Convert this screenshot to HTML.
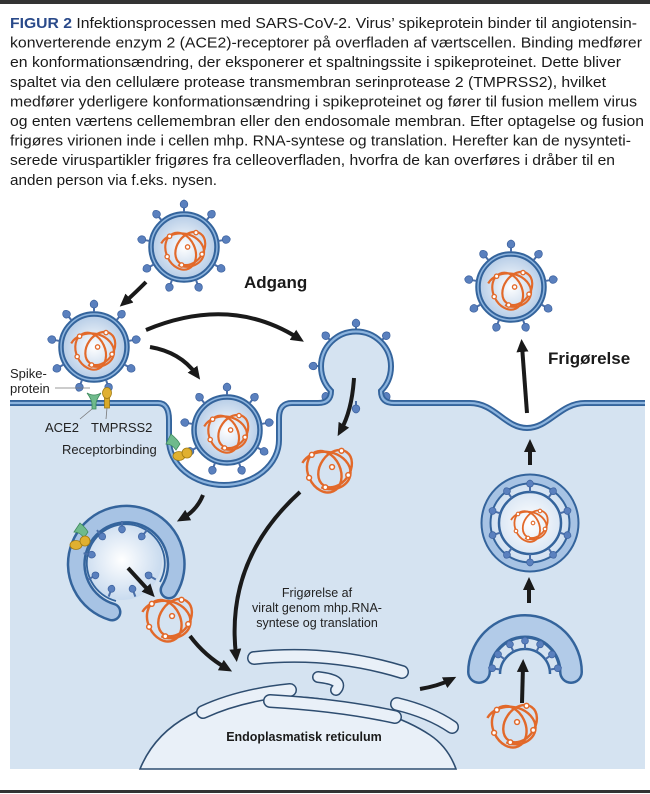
<!DOCTYPE html>
<html><head><meta charset="utf-8"><style>
html,body{margin:0;padding:0;background:#fff;}
svg{display:block;}
</style></head><body>
<svg width="650" height="794" viewBox="0 0 650 794" xmlns="http://www.w3.org/2000/svg" font-family="'Liberation Sans', Arial, sans-serif">
<defs>
<radialGradient id="vg" cx="0.5" cy="0.5" r="0.5">
<stop offset="0" stop-color="#ffffff"/><stop offset="1" stop-color="#b4cbe6"/>
</radialGradient>
<radialGradient id="eg" cx="0.5" cy="0.5" r="0.5">
<stop offset="0" stop-color="#ffffff"/><stop offset="1" stop-color="#c9dbef"/>
</radialGradient>
<marker id="ah" markerWidth="14" markerHeight="14" refX="6" refY="7" orient="auto" markerUnits="userSpaceOnUse">
<path d="M0,1 L13,7 L0,13 Z" fill="#1a1a1a"/>
</marker>
<g id="sp">
<line x1="0" y1="-35" x2="0" y2="-40" stroke="#4a6fa8" stroke-width="2"/>
<path d="M0,-39 C-5,-39 -5,-46 0,-47 C5,-46 5,-39 0,-39Z" fill="#5a80be" stroke="#3f64a0" stroke-width="0.8"/>
</g>
<g id="spi">
<line x1="0" y1="0" x2="0" y2="-6" stroke="#4a6fa8" stroke-width="2"/>
<path d="M0,-5 C-4.5,-5 -4.5,-11 0,-12 C4.5,-11 4.5,-5 0,-5Z" fill="#5a80be" stroke="#3f64a0" stroke-width="0.8"/>
</g>
<g id="r0" fill="none" stroke="#e2692a" stroke-width="1.8">
<ellipse cx="-4" cy="2" rx="12" ry="16" transform="rotate(-25)"/>
<ellipse cx="5" cy="-2" rx="11" ry="15" transform="rotate(35)"/>
<path d="M-19,-3 C-12,-15 10,-14 16,0 C20,12 6,20 -5,15"/>
<g fill="#fff" stroke-width="1.1">
<circle cx="-12" cy="-9" r="1.8"/><circle cx="10" cy="-12" r="1.8"/><circle cx="15" cy="6" r="1.8"/>
<circle cx="-2" cy="15" r="1.8"/><circle cx="-14" cy="8" r="1.8"/><circle cx="3" cy="0" r="1.8"/>
</g>
</g>
<g id="r"><use href="#r0" transform="scale(1.2)"/></g>
<g id="v">
<circle r="33" fill="url(#vg)" stroke="#34649c" stroke-width="5.5"/>
<circle r="33" fill="none" stroke="#8db4de" stroke-width="1.5"/>
<use href="#sp" transform="rotate(0)"/><use href="#sp" transform="rotate(40)"/>
<use href="#sp" transform="rotate(80)"/><use href="#sp" transform="rotate(120)"/>
<use href="#sp" transform="rotate(160)"/><use href="#sp" transform="rotate(200)"/>
<use href="#sp" transform="rotate(240)"/><use href="#sp" transform="rotate(280)"/>
<use href="#sp" transform="rotate(320)"/>
<use href="#r"/>
</g>
</defs>

<rect x="0" y="0" width="650" height="4" fill="#333"/>
<rect x="0" y="790" width="650" height="3" fill="#333"/>

<g font-size="15" fill="#1a1a1a">
<text x="10" y="28" textLength="627" lengthAdjust="spacingAndGlyphs"><tspan font-weight="bold" fill="#2a4a8a">FIGUR 2</tspan> Infektionsprocessen med SARS-CoV-2. Virus’ spikeprotein binder til angiotensin-</text>
<text x="10" y="47.6" textLength="632" lengthAdjust="spacingAndGlyphs">konverterende enzym 2 (ACE2)-receptorer på overfladen af værtscellen. Binding medfører</text>
<text x="10" y="67.2" textLength="611" lengthAdjust="spacingAndGlyphs">en konformationsændring, der eksponerer et spaltningssite i spikeproteinet. Dette bliver</text>
<text x="10" y="86.8" textLength="596" lengthAdjust="spacingAndGlyphs">spaltet via den cellulære protease transmembran serinprotease 2 (TMPRSS2), hvilket</text>
<text x="10" y="106.4" textLength="627" lengthAdjust="spacingAndGlyphs">medfører yderligere konformationsændring i spikeproteinet og fører til fusion mellem virus</text>
<text x="10" y="126" textLength="634" lengthAdjust="spacingAndGlyphs">og enten værtens cellemembran eller den endosomale membran. Efter optagelse og fusion</text>
<text x="10" y="145.6" textLength="621" lengthAdjust="spacingAndGlyphs">frigøres virionen inde i cellen mhp. RNA-syntese og translation. Herefter kan de nysynteti-</text>
<text x="10" y="165.2" textLength="605" lengthAdjust="spacingAndGlyphs">serede viruspartikler frigøres fra celleoverfladen, hvorfra de kan overføres i dråber til en</text>
<text x="10" y="184.8" textLength="207" lengthAdjust="spacingAndGlyphs">anden person via f.eks. nysen.</text>
</g>

<path d="M10,403 H158 Q169,403 169,420 L169,440 A55,45 0 0 0 279,440 L279,418 Q279,403 292,403 H318 Q331,403 331,391 A35,35 0 1 1 381,391 Q381,403 394,403 H470 C495,403 505,428 527,428 C549,428 560,403 585,403 H645 V769 H10 Z" fill="#d5e3f1"/>
<g transform="translate(356,366)">
<use href="#sp" transform="rotate(-90)"/>
<use href="#sp" transform="rotate(-45)"/><use href="#sp" transform="rotate(45)"/>
<use href="#sp" transform="rotate(0)"/><use href="#sp" transform="rotate(-135)"/>
<use href="#sp" transform="rotate(-180)"/>
<use href="#sp" transform="rotate(135)"/>
</g>
<path d="M10,403 H158 Q169,403 169,420 L169,440 A55,45 0 0 0 279,440 L279,418 Q279,403 292,403 H318 Q331,403 331,391 A35,35 0 1 1 381,391 Q381,403 394,403 H470 C495,403 505,428 527,428 C549,428 560,403 585,403 H645" fill="none" stroke="#34649c" stroke-width="6"/>
<path d="M10,403 H158 Q169,403 169,420 L169,440 A55,45 0 0 0 279,440 L279,418 Q279,403 292,403 H318 Q331,403 331,391 A35,35 0 1 1 381,391 Q381,403 394,403 H470 C495,403 505,428 527,428 C549,428 560,403 585,403 H645" fill="none" stroke="#8cb4de" stroke-width="2.2"/>

<use href="#v" transform="translate(184,247)"/>
<use href="#v" transform="translate(94,347)"/>
<use href="#v" transform="translate(227,430)"/>
<use href="#v" transform="translate(511,287)"/>

<g>
<path d="M87,393 Q92,400 92,404 L92,409 L96,409 L96,404 Q96,400 101,393 Q94,397 87,393Z" fill="#6fba8c" stroke="#3d8a5c" stroke-width="0.8"/>
<rect x="104.5" y="398" width="5" height="10" fill="#d9a928" stroke="#a07a10" stroke-width="0.8"/>
<ellipse cx="107" cy="393" rx="4.5" ry="5.5" fill="#e0b030" stroke="#a07a10" stroke-width="0.8"/>
<path d="M171,434 Q178,440 180,444 L176,450 Q172,444 166,444Z" fill="#6fba8c" stroke="#3d8a5c" stroke-width="0.8"/>
<ellipse cx="179" cy="456" rx="6" ry="4.5" fill="#e0b030" stroke="#a07a10" stroke-width="0.8"/>
<ellipse cx="187" cy="453" rx="5" ry="5" fill="#e0b030" stroke="#a07a10" stroke-width="0.8"/>
</g>
<g stroke="#777" stroke-width="0.8" fill="none">
<line x1="55" y1="388" x2="90" y2="388"/>
<line x1="80" y1="419" x2="92" y2="409"/>
<line x1="106" y1="419" x2="107" y2="408"/>
</g>
<g font-size="13" fill="#222">
<text x="10" y="378">Spike-</text>
<text x="10" y="393">protein</text>
<text x="45" y="432">ACE2</text>
<text x="91" y="432">TMPRSS2</text>
<text x="62" y="454">Receptorbinding</text>
</g>
<text x="244" y="288" font-size="17" font-weight="bold" fill="#1a1a1a">Adgang</text>
<text x="548" y="364" font-size="17" font-weight="bold" fill="#1a1a1a">Frigørelse</text>

<g>
<circle cx="122" cy="560" r="40" fill="url(#eg)"/>
<path d="M112,612 A50,50 0 1 1 169,590" fill="none" stroke="#34649c" stroke-width="19" stroke-linecap="round"/>
<path d="M112,612 A50,50 0 1 1 169,590" fill="none" stroke="#a7c3e4" stroke-width="14" stroke-linecap="round"/>
<path d="M116,601 A39,39 0 1 1 160,582" fill="none" stroke="#34649c" stroke-width="1.8"/>
<g transform="translate(122,560)">
<use href="#spi" transform="rotate(200) translate(0,-39) rotate(180)"/>
<use href="#spi" transform="rotate(240) translate(0,-39) rotate(180)"/>
<use href="#spi" transform="rotate(280) translate(0,-39) rotate(180)"/>
<use href="#spi" transform="rotate(320) translate(0,-39) rotate(180)"/>
<use href="#spi" transform="rotate(0) translate(0,-39) rotate(180)"/>
<use href="#spi" transform="rotate(40) translate(0,-39) rotate(180)"/>
<use href="#spi" transform="rotate(160) translate(0,-39) rotate(180)"/>
<use href="#spi" transform="rotate(120) translate(0,-39) rotate(180)"/>
</g>
<path d="M80,523 Q86,528 88,532 L84,538 Q80,532 74,532Z" fill="#6fba8c" stroke="#3d8a5c" stroke-width="0.8"/>
<ellipse cx="76" cy="545" rx="6" ry="4.5" fill="#e0b030" stroke="#a07a10" stroke-width="0.8"/>
<ellipse cx="85" cy="541" rx="5" ry="5" fill="#e0b030" stroke="#a07a10" stroke-width="0.8"/>
</g>

<use href="#r0" transform="translate(168,616) scale(1.35)"/>
<use href="#r0" transform="translate(328,467) scale(1.35)"/>
<use href="#r0" transform="translate(513,722) scale(1.35)"/>

<g stroke="#2e4d70" stroke-width="1.6">
<path d="M140,769 C160,720 210,700 260,697 L300,697 C350,700 400,715 430,735 C445,745 452,758 456,769 Z" fill="#e9f0f8"/>
</g>
<g fill="none" stroke-linecap="round">
<path d="M254,658 Q330,650 402,672" stroke="#2e4d70" stroke-width="14"/>
<path d="M254,658 Q330,650 402,672" stroke="#e9f0f8" stroke-width="11"/>
<path d="M203,712 Q240,695 290,690" stroke="#2e4d70" stroke-width="14"/>
<path d="M203,712 Q240,695 290,690" stroke="#e9f0f8" stroke-width="11"/>
<path d="M318,677 Q345,680 336,690" stroke="#2e4d70" stroke-width="12"/>
<path d="M318,677 Q345,680 336,690" stroke="#e9f0f8" stroke-width="9"/>
<path d="M270,701 Q340,705 395,717" stroke="#2e4d70" stroke-width="14"/>
<path d="M270,701 Q340,705 395,717" stroke="#e9f0f8" stroke-width="11"/>
<path d="M397,704 Q430,712 452,727" stroke="#2e4d70" stroke-width="14"/>
<path d="M397,704 Q430,712 452,727" stroke="#e9f0f8" stroke-width="11"/>
</g>
<text x="304" y="741" font-size="12.5" font-weight="bold" fill="#1a1a1a" text-anchor="middle">Endoplasmatisk reticulum</text>
<g font-size="12.5" fill="#222" text-anchor="middle">
<text x="317" y="597">Frigørelse af</text>
<text x="317" y="612">viralt genom mhp.RNA-</text>
<text x="317" y="627">syntese og translation</text>
</g>

<g>
<circle cx="530" cy="523" r="46" fill="url(#eg)"/>
<circle cx="530" cy="523" r="44" fill="none" stroke="#34649c" stroke-width="11"/>
<circle cx="530" cy="523" r="44" fill="none" stroke="#a7c3e4" stroke-width="7"/>
<circle cx="530" cy="523" r="31" fill="none" stroke="#34649c" stroke-width="2.5"/>
<g transform="translate(530,523)">
<use href="#spi" transform="rotate(0) translate(0,-31)"/>
<use href="#spi" transform="rotate(36) translate(0,-31)"/>
<use href="#spi" transform="rotate(72) translate(0,-31)"/>
<use href="#spi" transform="rotate(108) translate(0,-31)"/>
<use href="#spi" transform="rotate(144) translate(0,-31)"/>
<use href="#spi" transform="rotate(180) translate(0,-31)"/>
<use href="#spi" transform="rotate(216) translate(0,-31)"/>
<use href="#spi" transform="rotate(252) translate(0,-31)"/>
<use href="#spi" transform="rotate(288) translate(0,-31)"/>
<use href="#spi" transform="rotate(324) translate(0,-31)"/>
</g>
<use href="#r0" transform="translate(530,523)"/>
</g>
<g transform="translate(0,-16)">
<path d="M479,688 A46,46 0 0 1 571,688" fill="none" stroke="#34649c" stroke-width="24" stroke-linecap="round"/>
<path d="M479,688 A46,46 0 0 1 571,688" fill="none" stroke="#b2cbe8" stroke-width="19" stroke-linecap="round"/>
<path d="M491,688 A34,34 0 0 1 559,688" fill="none" stroke="#34649c" stroke-width="1.5"/>
<path d="M500,690 A25,25 0 0 1 550,690" fill="none" stroke="#34649c" stroke-width="2.5"/>
<g transform="translate(525,690)">
<use href="#spi" transform="rotate(-80) translate(0,-25)"/>
<use href="#spi" transform="rotate(-54) translate(0,-25)"/>
<use href="#spi" transform="rotate(-27) translate(0,-25)"/>
<use href="#spi" transform="rotate(0) translate(0,-25)"/>
<use href="#spi" transform="rotate(27) translate(0,-25)"/>
<use href="#spi" transform="rotate(54) translate(0,-25)"/>
<use href="#spi" transform="rotate(80) translate(0,-25)"/>
</g>
</g>

<g fill="none" stroke="#1a1a1a" stroke-width="4" marker-end="url(#ah)">
<path d="M146,282 Q134,294 125,302"/>
<path d="M146,330 Q230,295 298,338"/>
<path d="M150,347 Q180,352 196,374"/>
<path d="M354,378 Q352,410 341,430"/>
<path d="M300,492 Q225,560 236,655"/>
<path d="M203,495 Q197,510 183,518"/>
<path d="M128,568 L150,592"/>
<path d="M190,636 Q205,656 226,668"/>
<path d="M420,689 Q438,686 450,680"/>
<path d="M522,703 L523,666"/>
<path d="M529,603 L529,584"/>
<path d="M530,465 L530,446"/>
<path d="M527,413 L522,346"/>
</g>
</svg>
</body></html>
